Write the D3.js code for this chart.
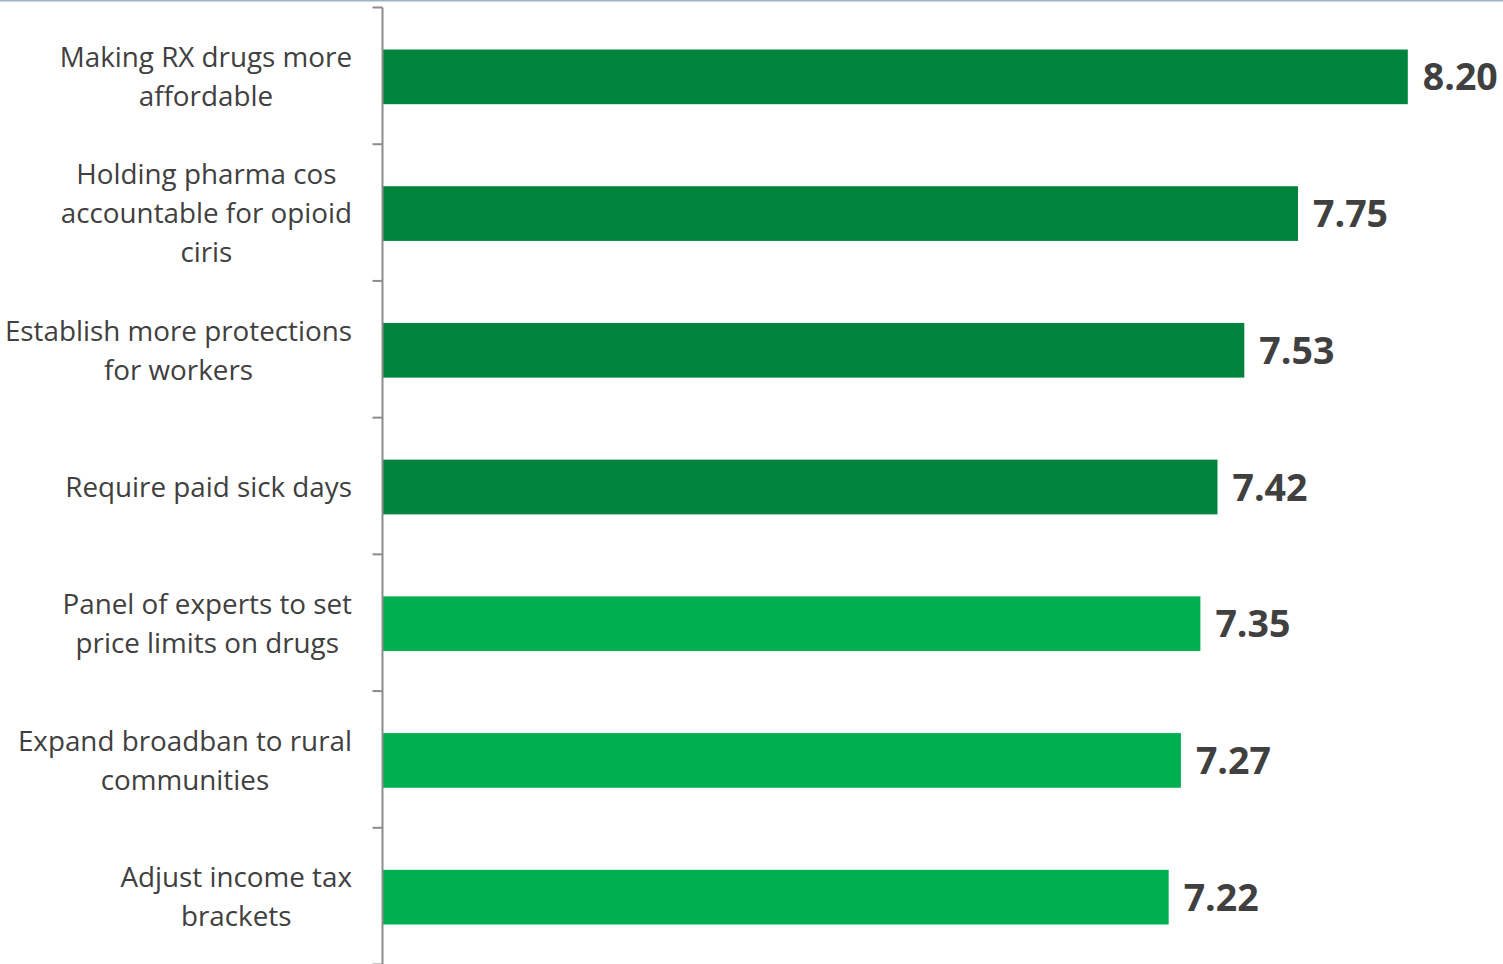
<!DOCTYPE html>
<html lang="en">
<head>
    <meta charset="UTF-8">
    <title>Priorities</title>
    <script src="https://d3js.org/d3.v7.min.js"></script>
</head>
<body style="margin:0;background:#fff">

<style>
    svg {
        font-family: "Open Sans", sans-serif;
    }
    .cat text {
        fill: #404040;
        font-size: 27.8px;
    }
    .val {
        fill: #404040;
        font-size: 37.5px;
        font-weight: bold;
    }
</style>

<div id="chart"></div>

<script>

    // categories (one array per label, lines as drawn) and scores
    var labels = [
        ["Making RX drugs more", "affordable"],
        ["Holding pharma cos", "accountable for opioid", "ciris"],
        ["Establish more protections", "for workers"],
        ["Require paid sick days"],
        ["Panel of experts to set", "price limits on drugs"],
        ["Expand broadban to rural", "communities"],
        ["Adjust income tax", "brackets"]
    ];
    var values = [8.20, 7.75, 7.53, 7.42, 7.35, 7.27, 7.22];
    var colors = ["#00843d", "#00843d", "#00843d", "#00843d", "#00b050", "#00b050", "#00b050"];

    var width = 1503, height = 964;
    var axisX = 382.5;

    var svg = d3.select("#chart").append("svg")
        .attr("width", width)
        .attr("height", height);

    // thin line along the top edge
    svg.append("line")
        .attr("x1", 0).attr("x2", width)
        .attr("y1", 0.5).attr("y2", 0.5)
        .style("stroke", "#9db3cc")
        .style("stroke-width", 2);

    var idx = d3.range(values.length);

    var y = d3.scaleBand()
        .domain(idx)
        .range([8.5, 965.5])
        .paddingInner(0.6)
        .paddingOuter(0.3);

    var x = d3.scaleLinear()
        .domain([4, 8.6])
        .range([axisX + 0.5, axisX + 0.5 + 4.6 * 244]);

    // bars
    svg.selectAll("rect.bar")
        .data(idx).enter()
        .append("rect")
        .attr("class", "bar")
        .attr("x", x(4))
        .attr("y", function(i) { return y(i); })
        .attr("width", function(i) { return x(values[i]) - x(4); })
        .attr("height", y.bandwidth())
        .style("fill", function(i) { return colors[i]; });

    // value labels
    svg.selectAll("text.val")
        .data(idx).enter()
        .append("text")
        .attr("class", "val")
        .attr("x", function(i) { return x(values[i]) + 15; })
        .attr("y", function(i) { return y(i) + y.bandwidth() / 2; })
        .attr("dy", "0.36em")
        .text(function(i) { return values[i].toFixed(2); });

    // category axis line and ticks at band boundaries
    var step = y.step();
    var bounds = d3.range(values.length + 1).map(function(k) { return y(0) - y.paddingOuter() * step + k * step; });
    svg.append("line")
        .attr("x1", axisX).attr("x2", axisX)
        .attr("y1", bounds[0] - 1).attr("y2", height)
        .style("stroke", "#8c8c8c")
        .style("stroke-width", 2);
    svg.selectAll("line.tick")
        .data(bounds).enter()
        .append("line")
        .attr("class", "tick")
        .attr("x1", axisX - 10).attr("x2", axisX)
        .attr("y1", function(d) { return d - 1; })
        .attr("y2", function(d) { return d - 1; })
        .style("stroke", "#8c8c8c")
        .style("stroke-width", 2);

    // category labels: lines centered on each other, widest line ends at 352
    var lineH = 39;
    var cat = svg.selectAll("g.cat")
        .data(idx).enter()
        .append("g")
        .attr("class", "cat");

    cat.each(function(i) {
        var g = d3.select(this);
        var lines = labels[i];
        var cy = y(i) + y.bandwidth() / 2;
        var t = g.append("text").attr("text-anchor", "middle");
        lines.forEach(function(s, k) {
            t.append("tspan")
                .attr("x", 0)
                .attr("y", cy + (k - (lines.length - 1) / 2) * lineH)
                .attr("dy", "0.35em")
                .text(s);
        });
        var maxW = d3.max(t.selectAll("tspan").nodes(), function(n) { return n.getComputedTextLength(); });
        t.selectAll("tspan").attr("x", 352 - maxW / 2);
    });

</script>

</body>
</html>
